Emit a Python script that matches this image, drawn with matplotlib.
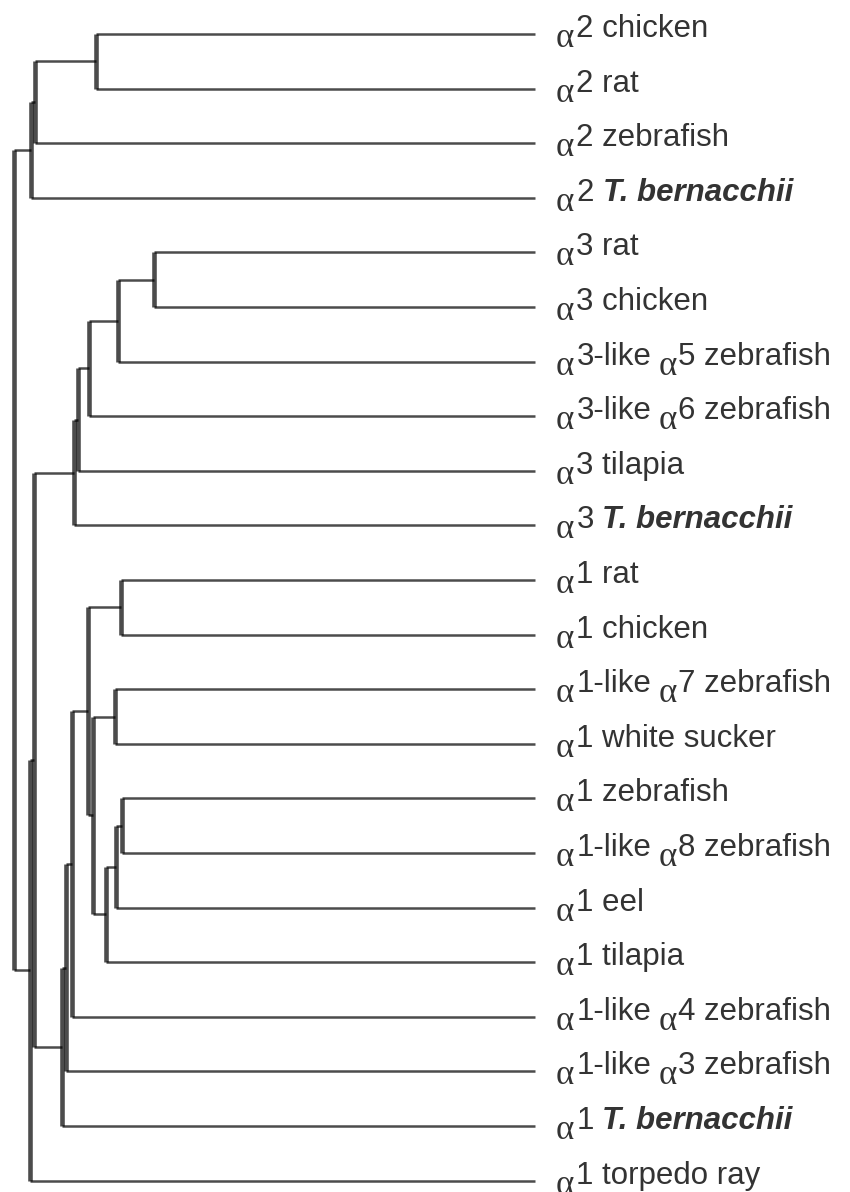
import matplotlib
matplotlib.use("Agg")
import matplotlib.pyplot as plt

# ---------------- data ----------------
tip_labels = [
    "α2 chicken", "α2 rat", "α2 zebrafish", "α2 T. bernacchii",
    "α3 rat", "α3 chicken", "α3-like α5 zebrafish", "α3-like α6 zebrafish",
    "α3 tilapia", "α3 T. bernacchii",
    "α1 rat", "α1 chicken", "α1-like α7 zebrafish", "α1 white sucker",
    "α1 zebrafish", "α1-like α8 zebrafish", "α1 eel", "α1 tilapia",
    "α1-like α4 zebrafish", "α1-like α3 zebrafish", "α1 T. bernacchii",
    "α1 torpedo ray",
]
emphasis_term = "T. bernacchii"

node_names = ["a2_cr", "a2_crz", "a2", "a3_rc", "a3_rc5", "a3_rc56", "a3_t", "a3",
              "a1_rc", "a1_7s", "a1_z8", "a1_z8e", "a1_z8et", "a1_mid", "a1_core",
              "a1_4", "a1_43", "a1", "a31", "a31r", "root"]
node_children = [
    (0, 1), ("a2_cr", 2), ("a2_crz", 3),
    (4, 5), ("a3_rc", 6), ("a3_rc5", 7), ("a3_rc56", 8), ("a3_t", 9),
    (10, 11), (12, 13), (14, 15), ("a1_z8", 16), ("a1_z8e", 17),
    ("a1_7s", "a1_z8et"), ("a1_rc", "a1_mid"), ("a1_core", 18),
    ("a1_4", 19), ("a1_43", 20), ("a3", "a1"), ("a31", 21), ("a2", "a31r"),
]
# horizontal position of each node (cumulative branch length, drawing units)
node_depth = [96, 35, 31, 154, 118, 89, 78, 74,
              121, 115, 122, 116, 106, 93, 88,
              72, 66, 62, 34, 30, 14]
tip_depth = 535

# ---------------- figure ----------------
W, H, DPI = 850, 1192, 100
fig = plt.figure(figsize=(W / DPI, H / DPI), dpi=DPI)
ax = fig.add_axes([0, 0, 1, 1])
ax.set_xlim(0, W)
row_top, row_step = 34, 54.6
ax.set_ylim((H - row_top) / row_step, -row_top / row_step)
ax.axis("off")

pos = {}
for i in range(len(tip_labels)):
    pos[i] = (tip_depth, float(i))

line_kw = dict(color="black", alpha=0.7, solid_capstyle="butt")
for name, ch, d in zip(node_names, node_children, node_depth):
    ys = [pos[c][1] for c in ch]
    y = (min(ys) + max(ys)) / 2.0
    pos[name] = (d, y)
    ax.plot([d, d], [min(ys), max(ys)], lw=3.3, **line_kw)
    for c in ch:
        cx, cy = pos[c]
        ax.plot([d, cx], [cy, cy], lw=1.8, **line_kw)

# ---------------- labels ----------------
renderer = fig.canvas.get_renderer()
fs = 22.5
fs_alpha = 25
px2pt = 72.0 / DPI
text_color = "#333333"
label_x = 556
space_pt = 0.278 * fs
num_dy = -3 * px2pt
alpha_dy = -13 * px2pt


def put(txt, i, dx, dy, size, **kw):
    t = ax.annotate(txt, xy=(label_x, i), xytext=(dx, dy), textcoords="offset points",
                    ha="left", va="baseline", color=text_color, fontsize=size,
                    annotation_clip=False, **kw)
    return t.get_window_extent(renderer).width * px2pt


for i, lab in enumerate(tip_labels):
    dx = 0.0
    parts = lab.split("α")[1:]
    for k, part in enumerate(parts):
        dx += put("α", i, dx, alpha_dy, fs_alpha,
                  family=["Liberation Serif", "DejaVu Serif"]) + 1.5
        words = part.rstrip(" ")
        trailing = part.endswith(" ")
        if emphasis_term in words:
            head = words.split(emphasis_term)[0].rstrip(" ")
            dx += put(head, i, dx, num_dy, fs, family="Liberation Sans")
            dx += space_pt
            dx += put(emphasis_term, i, dx, num_dy, fs, family="Liberation Sans",
                      fontweight="bold", fontstyle="italic")
        else:
            dx += put(words, i, dx, num_dy, fs, family="Liberation Sans")
        if trailing:
            dx += space_pt * 0.8

fig.savefig("out.png", dpi=DPI)
